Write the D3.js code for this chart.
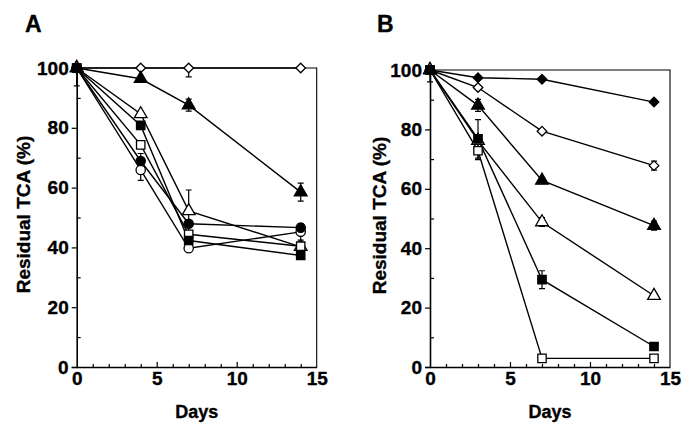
<!DOCTYPE html>
<html><head><meta charset="utf-8">
<script src="https://cdn.jsdelivr.net/npm/d3@7"></script>
<style>
body{margin:0;background:#fff}
text{font-family:"Liberation Sans",Arial,Helvetica,sans-serif;font-weight:bold;fill:#000;stroke:#000;stroke-width:0.35px}
</style>
</head><body>
<svg id="c" width="693" height="429"></svg>
<script>
// ---------- data ----------
const xTicks = [0, 5, 10, 15];
const xMinor = [1,2,3,4,6,7,8,9,11,12,13,14];
const yTicks = [0, 20, 40, 60, 80, 100];
const yMinor = [10, 30, 50, 70, 90];
const xLabel = "Days";
const yLabel = "Residual TCA (%)";

// Panel A
const daysA = [0, 4, 7, 14];
const A_openDiamond    = [100, 100, 100, 100];
const A_filledTriangle = [100, 96.4, 87.6, 58.5];
const A_openTriangle   = [100, 84.6, 52.2, 40.2];
const A_filledSquare   = [100, 80.8, 42.3, 37.3];
const A_openSquare     = [100, 74.3, 44.4, 40.4];
const A_filledCircle   = [100, 68.9, 47.9, 46.6];
const A_openCircle     = [100, 65.9, 39.7, 45.2];
const A_errOpenDiamond    = [0, 0, 3, 0];
const A_errFilledTriangle = [0, 0, 2, 3];
const A_errOpenTriangle   = [0, 0, 7, 0];
const A_errFilledSquare   = [0, 0, 0, 0];
const A_errOpenSquare     = [0, 0, 0, 0];
const A_errFilledCircle   = [0, 2.5, 0, 0];
const A_errOpenCircle     = [6, 3.5, 0, 2.8];

// Panel B
const daysB = [0, 3, 7, 14];
const B_filledDiamond  = [100, 97.4, 96.9, 89.2];
const B_openDiamond    = [100, 94.1, 79.4, 67.8];
const B_filledTriangle = [100, 88.1, 62.8, 47.6];
const B_openTriangle   = [100, 76.2, 48.8, 24.0];
const B_filledSquare   = [100, 76.8, 29.4, 6.9];
const B_openSquare     = [100, 72.8, 2.9, 2.9];
const B_errFilledDiamond  = [0, 0, 0, 0];
const B_errOpenDiamond    = [0, 0, 0, 1.5];
const B_errFilledTriangle = [0, 2, 1, 1.5];
const B_errOpenTriangle   = [0, 0, 1.5, 0];
const B_errFilledSquare   = [0, 6.5, 3, 0];
const B_errOpenSquare     = [4, 3, 0, 0];

// ---------- drawing ----------
const svg = d3.select("#c");

const diamond = {draw(ctx, size){ const r = Math.sqrt(size/2); ctx.moveTo(0,-r); ctx.lineTo(r,0); ctx.lineTo(0,r); ctx.lineTo(-r,0); ctx.closePath(); }};
const shapes = {
  square:   [d3.symbolSquare, 70],
  triangle: [d3.symbolTriangle, 70],
  circle:   [d3.symbolCircle, 68],
  diamond:  [diamond, 46]
};

function panel(opt){
  const x = d3.scaleLinear().domain([0,15]).range(opt.xr);
  const y = d3.scaleLinear().domain([0,100]).range(opt.yr);
  const g = svg.append("g");
  const y0 = y(0), x0 = x(0);

  // frame top/right
  g.append("path").attr("d", `M${x0},${y(100)}H${x(15)}V${y0}`)
    .attr("fill","none").attr("stroke","#000").attr("stroke-width",1.1);

  // left axis: labels + outward major ticks
  const ay = g.append("g").attr("transform",`translate(${x0},0)`)
    .call(d3.axisLeft(y).tickValues(yTicks).tickSize(5).tickPadding(3).tickFormat(d3.format("d")));
  ay.selectAll("text").style("font-size","19px");
  // inward minor ticks
  g.append("g").attr("transform",`translate(${x0},0)`)
    .call(d3.axisRight(y).tickValues(yMinor).tickSize(4).tickFormat(""))
    .select(".domain").remove();

  // bottom axis: labels
  const ax = g.append("g").attr("transform",`translate(0,${y0})`)
    .call(d3.axisBottom(x).tickValues(xTicks).tickSize(0).tickPadding(5).tickFormat(d3.format("d")));
  ax.selectAll("text").style("font-size","19px");
  // inward ticks
  g.append("g").attr("transform",`translate(0,${y0})`)
    .call(d3.axisTop(x).tickValues(xTicks.slice(1,3)).tickSize(5).tickFormat(""))
    .select(".domain").remove();
  g.append("g").attr("transform",`translate(0,${y0})`)
    .call(d3.axisTop(x).tickValues(xMinor).tickSize(3).tickFormat(""))
    .select(".domain").remove();

  g.selectAll(".domain").attr("stroke-width",1.6);
  g.selectAll(".tick line").attr("stroke-width",1.2);

  // titles
  g.append("text").attr("x",(x0+x(15))/2).attr("y",418).attr("text-anchor","middle")
    .style("font-size","18px").text(xLabel);
  g.append("text").attr("transform",`translate(${opt.ylx},${(y0+y(100))/2 - 3}) rotate(-90)`)
    .attr("text-anchor","middle").style("font-size","19px").text(yLabel);
  g.append("text").attr("x",opt.lx).attr("y",32).style("font-size","23px").text(opt.label);

  const line = d3.line().x((d,i)=>x(opt.days[i])).y(d=>y(d));
  opt.series.forEach(s=>{
    g.append("path").datum(s.v).attr("d",line).attr("fill","none")
      .attr("stroke","#000").attr("stroke-width",1.4);
  });
  opt.series.forEach(s=>{
    s.v.forEach((v,i)=>{
      const e = s.e[i]; if(!e) return;
      const cx = x(opt.days[i]);
      const top = y(Math.min(100.5, v+e)), bot = y(v-e);
      g.append("path").attr("d",`M${cx},${top}V${bot}M${cx-3},${top}H${cx+3}M${cx-3},${bot}H${cx+3}`)
        .attr("stroke","#000").attr("stroke-width",1.2).attr("fill","none");
    });
  });
  opt.series.forEach(s=>{
    const [sym,size] = shapes[s.shape];
    s.v.forEach((v,i)=>{
      g.append("path").attr("d",d3.symbol(sym,size)())
        .attr("transform",`translate(${x(opt.days[i])},${y(v)})`)
        .attr("fill",s.filled?"#000":"#fff").attr("stroke","#000").attr("stroke-width",1.3);
    });
  });
}

panel({
  xr:[76.7,316.7], yr:[367,68], ylx:30, lx:25, label:"A", days:daysA,
  series:[
    {v:A_openDiamond, e:A_errOpenDiamond, shape:"diamond", filled:false},
    {v:A_filledTriangle, e:A_errFilledTriangle, shape:"triangle", filled:true},
    {v:A_openTriangle, e:A_errOpenTriangle, shape:"triangle", filled:false},
    {v:A_openSquare, e:A_errOpenSquare, shape:"square", filled:false},
    {v:A_openCircle, e:A_errOpenCircle, shape:"circle", filled:false},
    {v:A_filledCircle, e:A_errFilledCircle, shape:"circle", filled:true},
    {v:A_filledSquare, e:A_errFilledSquare, shape:"square", filled:true}
  ]
});
panel({
  xr:[430,670], yr:[367,70], ylx:386, lx:377, label:"B", days:daysB,
  series:[
    {v:B_filledDiamond, e:B_errFilledDiamond, shape:"diamond", filled:true},
    {v:B_openDiamond, e:B_errOpenDiamond, shape:"diamond", filled:false},
    {v:B_filledTriangle, e:B_errFilledTriangle, shape:"triangle", filled:true},
    {v:B_openTriangle, e:B_errOpenTriangle, shape:"triangle", filled:false},
    {v:B_openSquare, e:B_errOpenSquare, shape:"square", filled:false},
    {v:B_filledSquare, e:B_errFilledSquare, shape:"square", filled:true}
  ]
});
</script>
</body></html>
